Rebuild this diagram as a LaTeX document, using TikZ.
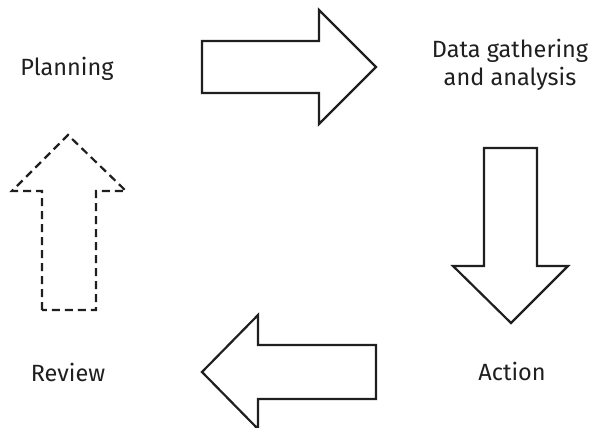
\documentclass[tikz,border=0pt]{standalone}
\usepackage{fontspec}
\setmainfont{Fira Sans}
\begin{document}
\begin{tikzpicture}[x=1pt,y=-1pt,
  arrowshape/.style={draw=black!88,line width=2.2pt,line join=miter},
  dashedshape/.style={draw=black!88,line width=2.2pt,dash pattern=on 8pt off 5pt},
  lbl/.style={font=\fontsize{23.5}{28}\selectfont,text=black!88,align=center,inner sep=0pt},
  onelbl/.style={lbl,text height=17pt,text depth=0pt}]
\useasboundingbox (0,0) rectangle (597,428);
% top arrow, right
\draw[arrowshape] (202,41) -- (319,41) -- (319,10) -- (376,67) -- (319,124) -- (319,93) -- (202,93) -- cycle;
% right arrow, down
\draw[arrowshape] (484,148) -- (537,148) -- (537,266) -- (568,266) -- (511,323) -- (453,266) -- (484,266) -- cycle;
% bottom arrow, left
\draw[arrowshape] (376,345) -- (258,345) -- (258,315) -- (202,372) -- (258,429) -- (258,399) -- (376,399) -- cycle;
% left arrow, up (dashed)
\draw[dashedshape] (42,310) -- (42,191) -- (12,191) -- (68,135) -- (126,191) -- (96,191) -- (96,310) -- cycle;
\node[onelbl] (plan) at (67,66.5) {Planning};
\node[lbl] (data) at (510,65) {Data gathering\\and analysis};
\node[onelbl] (rev) at (68,372.5) {Review};
\node[onelbl] (act) at (512,371.5) {Action};
\end{tikzpicture}
\end{document}
